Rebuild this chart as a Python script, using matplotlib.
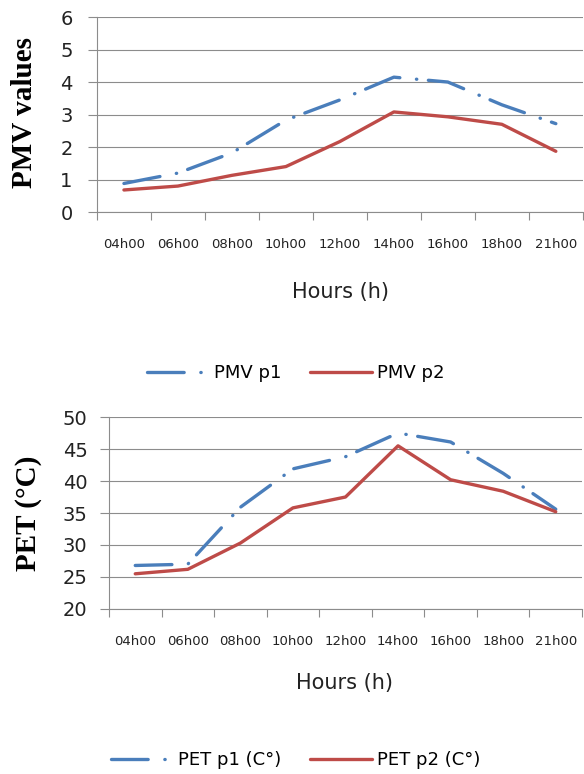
import matplotlib
matplotlib.use('Agg')
import matplotlib.pyplot as plt
import numpy as np

# Data
hours = ['04h00', '06h00', '08h00', '10h00', '12h00', '14h00', '16h00', '18h00', '21h00']
pmv_p1 = [0.88, 1.2, 1.82, 2.83, 3.45, 4.15, 4.0, 3.3, 2.72]
pmv_p2 = [0.68, 0.8, 1.13, 1.4, 2.17, 3.08, 2.93, 2.7, 1.87]
pet_p1 = [26.8, 27.0, 35.9, 41.9, 43.8, 47.5, 46.1, 41.2, 35.6]
pet_p2 = [25.5, 26.2, 30.3, 35.8, 37.5, 45.5, 40.2, 38.4, 35.2]

blue = '#4A7EBB'
red = '#BE4B48'
grid_c = '#8c8c8c'
dashdot = (0, (11, 5, 0.1, 3.5))

fig = plt.figure(figsize=(5.84, 7.74), dpi=100)
ax1 = fig.add_axes([0.166, 0.726, 0.832, 0.252])
ax2 = fig.add_axes([0.1866, 0.2132, 0.81, 0.248])

def style_axis(ax, ylim, ystep, ypad):
    x = np.arange(len(hours))
    ax.set_xlim(-0.5, len(hours) - 0.5)
    ax.set_ylim(*ylim)
    ax.set_yticks(np.arange(ylim[0], ylim[1] + ystep / 2, ystep))
    ax.set_xticks(x)
    ax.set_xticklabels(hours, fontsize=9.5, color='#222222')
    ax.set_xticks(np.arange(len(hours) + 1) - 0.5, minor=True)
    ax.tick_params(axis='x', which='major', length=0, pad=19)
    ax.tick_params(axis='x', which='minor', length=6, color=grid_c, width=0.8)
    ax.tick_params(axis='y', length=6.5, color=grid_c, width=0.8, labelsize=14,
                   pad=ypad, labelcolor='#222222')
    ax.grid(axis='y', color=grid_c, lw=0.8)
    ax.set_axisbelow(True)
    for s in ['top', 'right']:
        ax.spines[s].set_visible(False)
    for s in ['left', 'bottom']:
        ax.spines[s].set_color(grid_c)
        ax.spines[s].set_linewidth(0.8)
    return x

x = style_axis(ax1, (0, 6), 1, 11)
ax1.plot(x, pmv_p1, color=blue, lw=2.4, linestyle=dashdot, dash_capstyle='round',
         label='PMV p1')
ax1.plot(x, pmv_p2, color=red, lw=2.4, solid_capstyle='round', label='PMV p2')

x = style_axis(ax2, (20, 50), 5, 9)
ax2.plot(x, pet_p1, color=blue, lw=2.4, linestyle=dashdot, dash_capstyle='round',
         label='PET p1 (C°)')
ax2.plot(x, pet_p2, color=red, lw=2.4, solid_capstyle='round', label='PET p2 (C°)')

# axis titles
fig.text(25 / 584, 1 - 113 / 774, 'PMV values', rotation=90, ha='center', va='center',
         fontsize=21, fontweight='bold', family='Liberation Serif')
fig.text(28 / 584, 1 - 513 / 774, 'PET (°C)', rotation=90, ha='center', va='center',
         fontsize=21, fontweight='bold', family='Liberation Serif')
fig.text(340 / 584, 1 - 292 / 774, 'Hours (h)', ha='center', va='center',
         fontsize=15, color='#222222')
fig.text(345 / 584, 1 - 683 / 774, 'Hours (h)', ha='center', va='center',
         fontsize=15, color='#222222')

# legends
for ax, yc in [(ax1, 373), (ax2, 760)]:
    ax.legend(loc='center', bbox_to_anchor=(296 / 584, 1 - yc / 774),
              bbox_transform=fig.transFigure, ncol=2, frameon=False,
              fontsize=13, handlelength=3.4, handletextpad=0.3, columnspacing=1.6)

plt.savefig('out.png', dpi=100)
